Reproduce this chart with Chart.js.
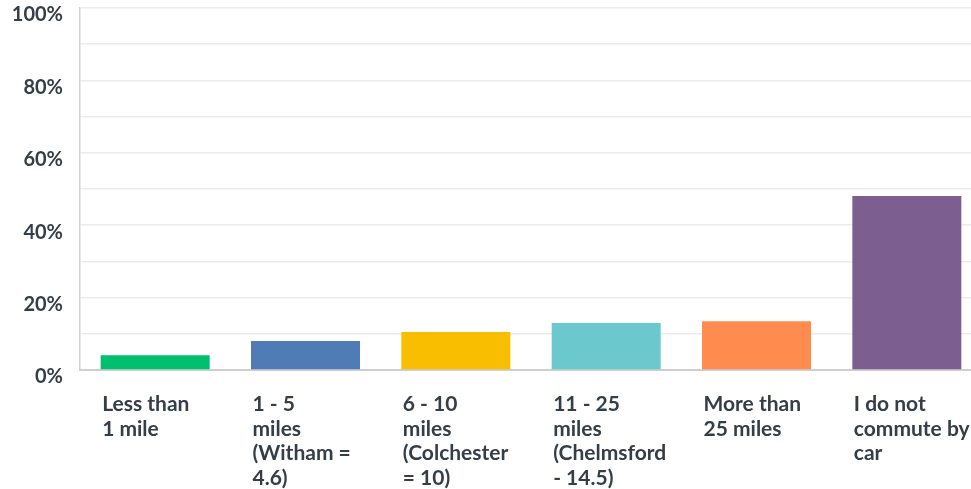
<!DOCTYPE html>
<html>
<head>
<meta charset="utf-8">
<script src="https://cdn.jsdelivr.net/npm/chart.js@4"></script>
<style>
  html, body { margin: 0; padding: 0; background: #fff; overflow: hidden; }
  #wrap { width: 992px; height: 489px; }
</style>
</head>
<body>
<div id="wrap"><canvas id="commuteChart" width="992" height="489"></canvas></div>
<script>
const categories = [
  ['Less than', '1 mile'],
  ['1 - 5', 'miles', '(Witham =', '4.6)'],
  ['6 - 10', 'miles', '(Colchester', '= 10)'],
  ['11 - 25', 'miles', '(Chelmsford', '- 14.5)'],
  ['More than', '25 miles'],
  ['I do not', 'commute by', 'car']
];
const percentages = [4.1, 8.0, 10.5, 13.0, 13.5, 48.1];
const barColours = ['#00bf6f', '#507cb6', '#f9be00', '#6bc8cd', '#ff8b4f', '#7d5e90'];
const yTicks = [0, 20, 40, 60, 80, 100];

const textColour = '#333e48';

new Chart(document.getElementById('commuteChart'), {
  type: 'bar',
  data: {
    labels: categories,
    datasets: [{
      data: percentages,
      backgroundColor: barColours,
      categoryPercentage: 1,
      barPercentage: 0.725
    }]
  },
  options: {
    responsive: false,
    animation: false,
    layout: { padding: { top: 8, right: 10, left: 0, bottom: 0 } },
    plugins: { legend: { display: false }, tooltip: { enabled: false } },
    scales: {
      x: {
        grid: { display: false, drawTicks: false },
        border: { color: '#cfcfcf', width: 2 },
        ticks: {
          color: textColour,
          font: { family: 'Lato', size: 21, weight: '700', lineHeight: 1.17 },
          align: 'start',
          labelOffset: -53,
          padding: 22,
          maxRotation: 0,
          autoSkip: false
        },
        afterFit(scale) {
          scale.height = 119;
          scale.paddingLeft = 0;
          scale.paddingRight = 0;
        }
      },
      y: {
        min: 0,
        max: 100,
        grid: { color: '#ececec', lineWidth: 1.5, drawTicks: false },
        border: { color: '#d3d3d3', width: 1.5 },
        ticks: {
          stepSize: 10,
          color: textColour,
          font: { family: 'Lato', size: 20, weight: '700' },
          padding: 17,
          labelOffset: 7,
          callback: v => yTicks.includes(v) ? v + '%' : ''
        },
        afterFit(scale) {
          scale.width = 80;
          scale.paddingTop = 0;
          scale.paddingBottom = 0;
        }
      }
    }
  }
});
</script>
</body>
</html>
